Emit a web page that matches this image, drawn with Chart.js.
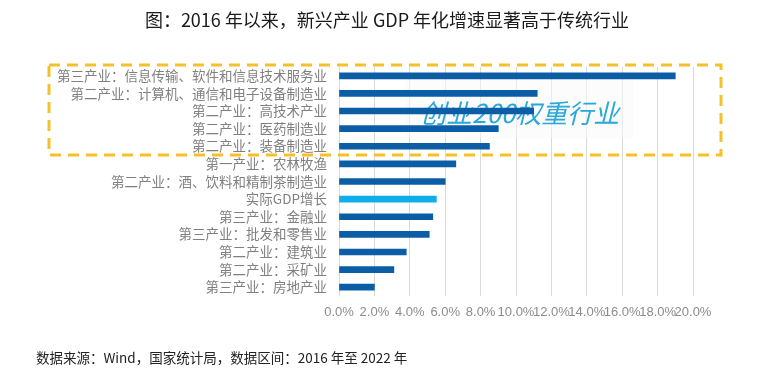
<!DOCTYPE html>
<html>
<head>
<meta charset="utf-8">
<script src="https://cdn.jsdelivr.net/npm/chart.js@4.4.1/dist/chart.umd.min.js"></script>
<style>
  html, body { margin: 0; padding: 0; background: #ffffff; }
  #wrap { width: 765px; height: 379px; }
</style>
</head>
<body>
<div id="wrap"><canvas id="c" width="765" height="379"></canvas></div>
<script>
const titleText = '图：2016 年以来，新兴产业 GDP 年化增速显著高于传统行业';
const footerText = '数据来源：Wind，国家统计局，数据区间：2016 年至 2022 年';
const watermarkText = '创业200权重行业';

const categories = [
  '第三产业：信息传输、软件和信息技术服务业',
  '第二产业：计算机、通信和电子设备制造业',
  '第二产业：高技术产业',
  '第二产业：医药制造业',
  '第二产业：装备制造业',
  '第一产业：农林牧渔',
  '第二产业：酒、饮料和精制茶制造业',
  '实际GDP增长',
  '第三产业：金融业',
  '第三产业：批发和零售业',
  '第二产业：建筑业',
  '第二产业：采矿业',
  '第三产业：房地产业'
];
const growthPct = [19.0, 11.2, 11.0, 9.0, 8.5, 6.6, 6.0, 5.5, 5.3, 5.1, 3.8, 3.1, 2.0];
const highlightCategory = '实际GDP增长';
const xTicks = [0, 2, 4, 6, 8, 10, 12, 14, 16, 18, 20];

const DARK = '#0B5EA6';
const LIGHT = '#0EAEEA';
const barColors = categories.map(c => c === highlightCategory ? LIGHT : DARK);

const cjk = '"Noto Sans CJK SC", "Noto Sans", sans-serif';

const overlay = {
  id: 'overlay',
  beforeDatasetsDraw(chart) {
    const ctx = chart.ctx;
    ctx.save();
    // faint box behind watermark
    ctx.fillStyle = 'rgba(250,250,250,0.55)';
    ctx.fillRect(405, 80, 228, 58);
    // watermark
    ctx.font = 'italic 26px ' + cjk;
    ctx.fillStyle = '#2AA8DA';
    ctx.textAlign = 'left';
    ctx.textBaseline = 'middle';
    ctx.fillText(watermarkText, 420, 113);
    ctx.restore();
  },
  afterDraw(chart) {
    const ctx = chart.ctx;
    ctx.save();
    // title
    ctx.font = '18px ' + cjk;
    ctx.fillStyle = '#1a1a1a';
    ctx.textAlign = 'center';
    ctx.textBaseline = 'middle';
    ctx.fillText(titleText, 387, 20);
    // footer
    ctx.font = '13.5px ' + cjk;
    ctx.fillStyle = '#222222';
    ctx.textAlign = 'left';
    ctx.fillText(footerText, 36, 358);
    // dashed highlight box
    ctx.strokeStyle = '#F6C02B';
    ctx.lineWidth = 3;
    ctx.setLineDash([11, 7]);
    ctx.strokeRect(49, 65, 672, 90);
    ctx.restore();
  }
};

new Chart(document.getElementById('c'), {
  type: 'bar',
  data: {
    labels: categories,
    datasets: [{
      data: growthPct,
      backgroundColor: barColors,
      borderWidth: 0,
      barThickness: 6
    }]
  },
  options: {
    indexAxis: 'y',
    responsive: false,
    animation: false,
    layout: { padding: { top: 67, right: 72, bottom: 53, left: 0 } },
    plugins: {
      legend: { display: false },
      tooltip: { enabled: false },
      title: { display: false }
    },
    scales: {
      x: {
        min: 0,
        max: 20,
        afterBuildTicks(scale) { scale.ticks = xTicks.map(v => ({ value: v })); },
        afterFit(scale) { scale.height = 30; },
        ticks: {
          autoSkip: false,
          maxRotation: 0,
          minRotation: 0,
          padding: 9,
          color: '#8c8c8c',
          font: { family: '"Liberation Sans", Arial, sans-serif', size: 13 },
          callback: v => Number(v).toFixed(1) + '%'
        },
        grid: { color: '#d9d9d9', lineWidth: 1, drawTicks: false },
        border: { display: false }
      },
      y: {
        afterFit(scale) { scale.width = 339; },
        ticks: {
          autoSkip: false,
          padding: 12,
          color: '#808080',
          font: { family: cjk, size: 13.5 }
        },
        grid: { display: false, drawTicks: false },
        border: { display: false }
      }
    }
  },
  plugins: [overlay]
});
</script>
</body>
</html>
